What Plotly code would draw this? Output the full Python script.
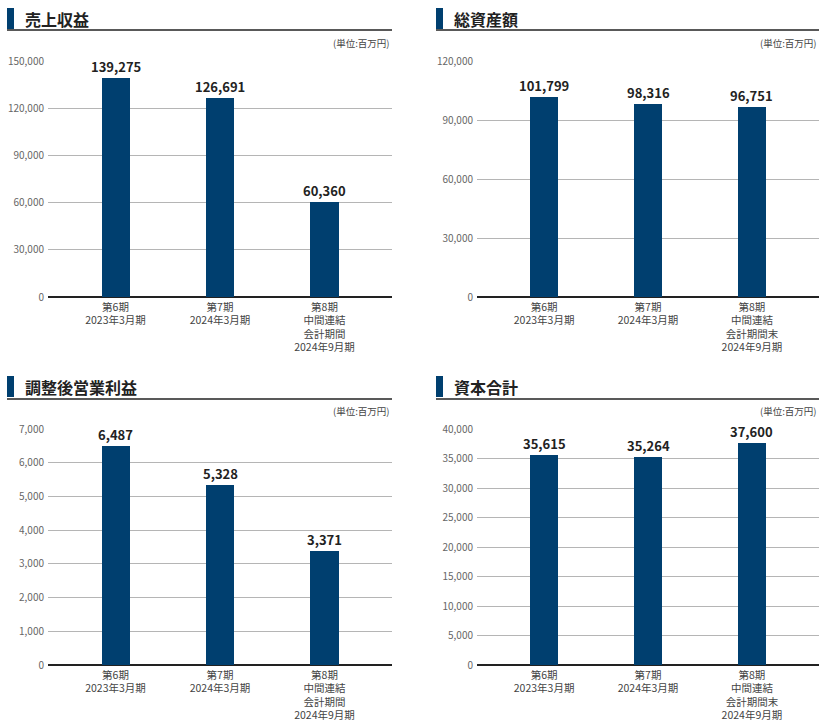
import plotly.graph_objects as go

W, H = 830, 728

titles = ["売上収益", "総資産額", "調整後営業利益", "資本合計"]
cats_left = ["第6期<br>2023年3月期", "第7期<br>2024年3月期", "第8期<br>中間連結<br>会計期間<br>2024年9月期"]
cats_right = ["第6期<br>2023年3月期", "第7期<br>2024年3月期", "第8期<br>中間連結<br>会計期間末<br>2024年9月期"]
revenue = [139275, 126691, 60360]
total_assets = [101799, 98316, 96751]
adj_op_income = [6487, 5328, 3371]
total_equity = [35615, 35264, 37600]
unit_label = "(単位:百万円)"

panels = [
    dict(title=titles[0], cats=cats_left, vals=revenue, ymax=150000, dtick=30000,
         px=(48, 392), py=(61, 297), bar_x=7, line=(7, 392), title_y=19, line_y=30, unit_y=43),
    dict(title=titles[1], cats=cats_right, vals=total_assets, ymax=120000, dtick=30000,
         px=(477, 819), py=(61, 297), bar_x=436, line=(436, 819), title_y=19, line_y=30, unit_y=43),
    dict(title=titles[2], cats=cats_left, vals=adj_op_income, ymax=7000, dtick=1000,
         px=(48, 392), py=(429, 665), bar_x=7, line=(7, 392), title_y=387, line_y=399, unit_y=411),
    dict(title=titles[3], cats=cats_right, vals=total_equity, ymax=40000, dtick=5000,
         px=(477, 819), py=(429, 665), bar_x=436, line=(436, 819), title_y=387, line_y=399, unit_y=411),
]

FONT = "Noto Sans CJK JP"
BAR = "#003f6f"

fig = go.Figure()
shapes = []
annotations = []
layout = {}

for i, p in enumerate(panels, start=1):
    xa = "x" if i == 1 else f"x{i}"
    ya = "y" if i == 1 else f"y{i}"
    xkey = "xaxis" if i == 1 else f"xaxis{i}"
    ykey = "yaxis" if i == 1 else f"yaxis{i}"
    fig.add_trace(go.Bar(
        x=list(range(3)), y=p["vals"], xaxis=xa, yaxis=ya,
        marker=dict(color=BAR, line=dict(width=0)), width=0.268,
        hoverinfo="skip", showlegend=False,
    ))
    layout[xkey] = dict(
        domain=[p["px"][0] / W, p["px"][1] / W], anchor=ya, automargin=False,
        range=[-0.646, 2.646], tickmode="array", tickvals=list(range(3)),
        ticktext=p["cats"], showgrid=False, zeroline=False, showline=False,
        ticks="", ticklabelstandoff=2,
        tickfont=dict(family=FONT, size=10.5, color="#444"), fixedrange=True,
    )
    layout[ykey] = dict(
        domain=[1 - p["py"][1] / H, 1 - p["py"][0] / H], anchor=xa, automargin=False,
        range=[0, p["ymax"]], dtick=p["dtick"], tick0=0, tickformat=",d",
        showgrid=True, gridcolor="#b5b5b5", gridwidth=1,
        zeroline=True, zerolinecolor="#222", zerolinewidth=1.5,
        showline=False, ticks="", ticklabelstandoff=3,
        tickfont=dict(family=FONT, size=10, color="#666"), fixedrange=True,
    )
    for j, v in enumerate(p["vals"]):
        annotations.append(dict(
            x=j, y=v, xref=xa, yref=ya, text=f"<b>{v:,}</b>", showarrow=False,
            yanchor="bottom", yshift=0, font=dict(family=FONT, size=13, color="#222"),
        ))
    shapes.append(dict(type="rect", xref="paper", yref="paper",
                       x0=p["bar_x"] / W, x1=(p["bar_x"] + 7) / W,
                       y0=1 - (p["title_y"] + 10) / H, y1=1 - (p["title_y"] - 11) / H,
                       fillcolor="#003f6f", line=dict(width=0)))
    shapes.append(dict(type="line", xref="paper", yref="paper",
                       x0=p["line"][0] / W, x1=p["line"][1] / W,
                       y0=1 - p["line_y"] / H, y1=1 - p["line_y"] / H,
                       line=dict(color="#222", width=1.5)))
    annotations.append(dict(
        x=(p["bar_x"] + 16) / W, y=1 - p["title_y"] / H, xref="paper", yref="paper",
        text=f"<b>{p['title']}</b>", showarrow=False, xanchor="left", yanchor="middle",
        font=dict(family=FONT, size=16, color="#222"),
    ))
    annotations.append(dict(
        x=p["line"][1] / W, y=1 - p["unit_y"] / H, xref="paper", yref="paper",
        text=unit_label, showarrow=False, xanchor="right", yanchor="middle",
        font=dict(family=FONT, size=9.5, color="#444"),
    ))

fig.update_layout(
    width=W, height=H, margin=dict(l=0, r=0, t=0, b=0, pad=0, autoexpand=False),
    paper_bgcolor="white", plot_bgcolor="white",
    shapes=shapes, annotations=annotations, showlegend=False,
    font=dict(family=FONT), bargap=0,
    **layout,
)

fig.write_html(
    "out.html",
    config={"displayModeBar": False},
    post_script="document.body.style.margin='0px';document.body.style.padding='0px';",
)
